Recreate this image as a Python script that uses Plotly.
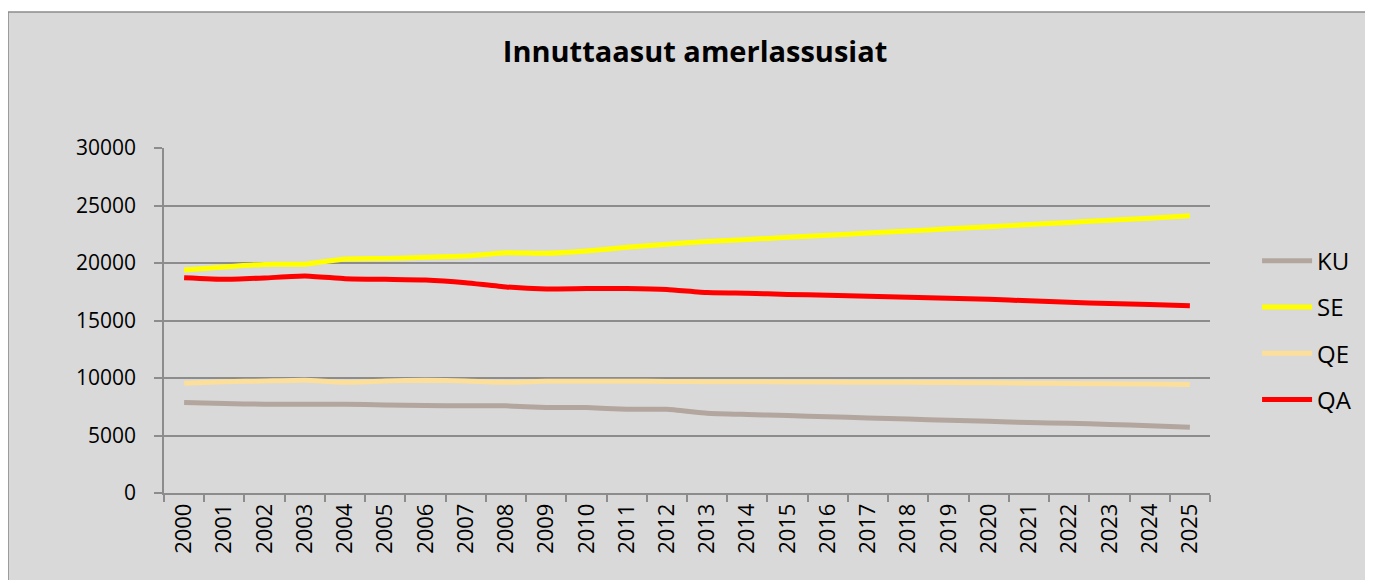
import plotly.graph_objects as go

# Années (catégories de l'axe X)
annees = [str(a) for a in range(2000, 2026)]

# Séries
ku = [7860, 7780, 7720, 7720, 7720, 7660, 7610, 7580, 7580, 7430, 7430, 7280, 7280,
      6940, 6830, 6730, 6630, 6530, 6430, 6330, 6230, 6130, 6060, 5960, 5850, 5720]
se = [19390, 19650, 19880, 19900, 20350, 20400, 20490, 20600, 20900, 20840, 21040, 21360, 21640,
      21870, 22050, 22230, 22420, 22600, 22780, 22970, 23160, 23340, 23530, 23710, 23900, 24100]
qe = [9540, 9680, 9740, 9800, 9620, 9740, 9800, 9740, 9620, 9710, 9720, 9720, 9700,
      9680, 9670, 9660, 9650, 9630, 9620, 9600, 9580, 9550, 9520, 9500, 9470, 9430]
qa = [18720, 18580, 18700, 18870, 18640, 18580, 18530, 18290, 17920, 17750, 17780, 17780, 17700,
      17430, 17370, 17270, 17190, 17100, 17020, 16930, 16840, 16710, 16590, 16470, 16390, 16280]

series = [
    ("KU", ku, "#b3a69e"),
    ("SE", se, "#ffff00"),
    ("QE", qe, "#fbdf9b"),
    ("QA", qa, "#ff0000"),
]

POLICE = "Open Sans"
GRIS = "#8c8c8c"

fig = go.Figure()
for nom, valeurs, couleur in series:
    fig.add_trace(go.Scatter(
        x=annees, y=valeurs, name=nom, mode="lines",
        legendgroup=nom,
        line=dict(color=couleur, width=5, shape="spline", smoothing=0.4),
    ))

# Zone grise du graphique avec sa bordure (le bord droit sort de la fenêtre)
fig.add_shape(
    type="rect", xref="paper", yref="paper",
    x0=-0.1491, x1=1.25, y0=-0.3, y1=1.394,
    fillcolor="#d9d9d9", line=dict(color=GRIS, width=1.5), layer="below",
)

fig.update_layout(
    width=1373, height=580,
    margin=dict(l=156, r=171, t=140, b=95),
    paper_bgcolor="white",
    plot_bgcolor="white",
    font=dict(family=POLICE, color="black", size=21),
    title=dict(
        text="<b>Innuttaasut amerlassusiat</b>",
        x=0.5077, xref="paper", xanchor="center",
        y=1 - 44 / 580, yanchor="middle",
        font=dict(family=POLICE, size=29, color="black"),
    ),
    legend=dict(
        x=1.045, xanchor="left", y=0.737, yanchor="top",
        bgcolor="rgba(0,0,0,0)", tracegroupgap=12,
        font=dict(family=POLICE, size=24, color="black"),
        itemwidth=50,
    ),
    showlegend=True,
)

fig.update_xaxes(
    type="category", range=[-0.5, 25.5],
    tickangle=-90, tickson="boundaries",
    ticks="outside", ticklen=7, tickcolor=GRIS, tickwidth=1.5,
    showline=True, linecolor=GRIS, linewidth=1.5,
    showgrid=False, tickfont=dict(size=22),
)
fig.update_yaxes(
    range=[0, 30000], dtick=5000, tickformat="d",
    ticks="outside", ticklen=8, tickcolor=GRIS, tickwidth=1.5,
    showline=True, linecolor=GRIS, linewidth=1.5,
    showgrid=True, gridcolor=GRIS, gridwidth=1.5,
    zeroline=False, tickfont=dict(size=21), ticklabelstandoff=14,
)

fig.write_html("out.html")
